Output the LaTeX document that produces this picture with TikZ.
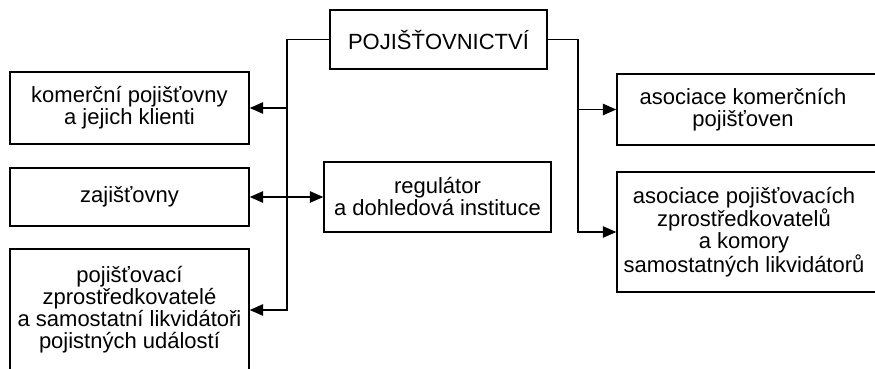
\documentclass[tikz,border=0pt]{standalone}
\usepackage{fontspec}
\setmainfont{Liberation Sans}
\usetikzlibrary{arrows.meta,fit}
\begin{document}
\begin{tikzpicture}[x=0.75pt, y=-0.75pt, line width=1.1pt,
  box/.style={draw, align=center, inner sep=0pt,
    font=\fontsize{16.5}{16.5}\selectfont},
  txt/.style={align=center, inner sep=0pt,
    font=\fontsize{16.5}{16.5}\selectfont},
  arr/.style={-{Triangle[length=10pt,width=8.5pt]}},
  arrboth/.style={{Triangle[length=10pt,width=8.5pt]}-{Triangle[length=10pt,width=8.5pt]}}]
  \useasboundingbox (0,0) rectangle (875,368);
  % Top
  \node[box, minimum width=162.75pt, minimum height=44.25pt] (poj) at (438.5,39.5) {POJIŠŤOVNICTVÍ};
  % Left column
  \node[box, minimum width=179.25pt, minimum height=54pt] (kom) at (129.5,108) {komerční pojišťovny\\a jejich klienti};
  \node[box, minimum width=179.25pt, minimum height=43.5pt] (zaj) at (129.5,197) {zajišťovny};
  \node[box, minimum width=179.25pt, minimum height=91.5pt] (zpr) at (129.5,310) {pojišťovací\\zprostředkovatelé\\a samostatní likvidátoři\\pojistných událostí};
  % Middle
  \node[box, minimum width=170.25pt, minimum height=52.5pt] (reg) at (437.5,197) {regulátor\\a dohledová instituce};
  % Right column (boxes cut by the right edge)
  \node[draw, inner sep=0pt, fit={(617,74) (900,145)}] (aso1) {};
  \node[draw, inner sep=0pt, fit={(617,172) (900,292)}] (aso2) {};
  \node[txt] at (743,109.5) {asociace komerčních\\pojišťoven};
  \node[txt] at (744,232) {asociace pojišťovacích\\zprostředkovatelů\\a komory\\samostatných likvidátorů};
  % Connectors
  \coordinate (lb) at (287,0);
  \coordinate (rb) at (578,0);
  \draw[arr] (poj.west) -| (lb |- zpr.east) -- (zpr.east);
  \draw[arr] (lb |- kom.east) -- (kom.east);
  \draw[arr] (poj.east) -| (rb |- aso2.west) -- (aso2.west);
  \draw[arr] (rb |- aso1.west) -- (aso1.west);
  \draw[arrboth] (zaj.east) -- (reg.west);
\end{tikzpicture}
\end{document}
